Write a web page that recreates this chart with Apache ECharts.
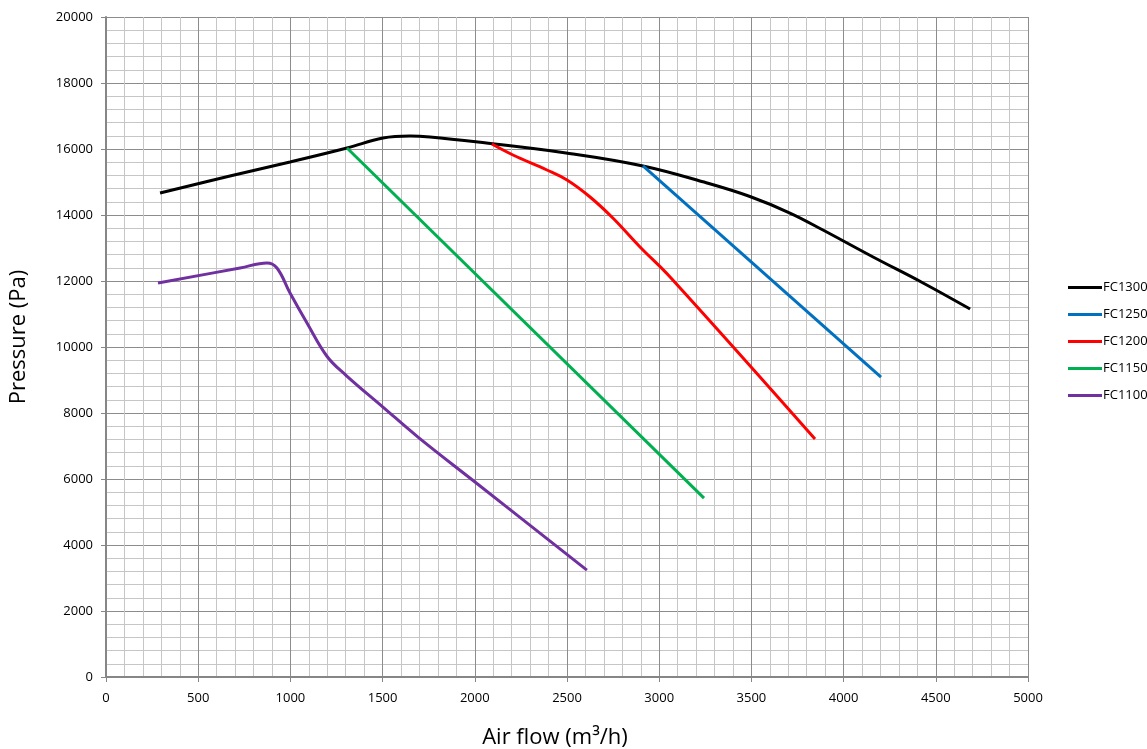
<!DOCTYPE html>
<html>
<head>
<meta charset="utf-8">
<script src="https://cdn.jsdelivr.net/npm/echarts@6/dist/echarts.min.js"></script>
<style>html,body{margin:0;padding:0;background:#fff;}#c{width:1147px;height:749px;}</style>
</head>
<body>
<div id="c"></div>
<script>
const seriesNames = ['FC1300', 'FC1250', 'FC1200', 'FC1150', 'FC1100'];
const seriesColors = ['#000000', '#0070c0', '#ff0000', '#00b050', '#7030a0'];
const fc1300 = [[293,14667],[672,15180],[998,15606],[1307,16030],[1502,16333],[1649,16394],[1757,16364],[2017,16210],[2495,15880],[2912,15485],[3259,14970],[3492,14560],[3709,14060],[3888,13545],[4160,12727],[4431,11940],[4686,11150]];
const fc1250 = [[2912,15485],[4203,9090]];
const fc1200 = [[2093,16150],[2207,15818],[2391,15364],[2500,15060],[2625,14545],[2750,13900],[2896,13030],[3059,12120],[3845,7210]];
const fc1150 = [[1307,16030],[3243,5420]];
const fc1100 = [[282,11940],[727,12394],[873,12545],[927,12394],[998,11636],[1090,10727],[1198,9720],[1300,9150],[1502,8180],[1692,7270],[2001,5910],[2608,3240]];
const seriesData = [fc1300, fc1250, fc1200, fc1150, fc1100];
const smoothing = [0.4, false, 0.4, false, 0.4];

const chart = echarts.init(document.getElementById('c'));
const font = 'Open Sans, Liberation Sans, sans-serif';
chart.setOption({
  animation: false,
  grid: { left: 106, right: 119, top: 17, bottom: 72, containLabel: false, outerBoundsMode: 'none' },
  legend: {
    orient: 'vertical', left: 1063, top: 276,
    itemWidth: 34, itemHeight: 14, itemGap: 14,
    icon: 'path://M0,0 L34,0 L34,3 L0,3 Z',
    textStyle: { fontSize: 13, color: '#000', fontFamily: font, padding: [0,0,0,-4] },
    data: seriesNames
  },
  xAxis: {
    type: 'value', min: 0, max: 5000, interval: 500,
    name: 'Air flow (m³/h)', nameLocation: 'middle', nameGap: 50,
    nameTextStyle: { fontSize: 22, color: '#000', fontFamily: font, padding: [0, 24, 0, 0] },
    axisLine: { show: true, lineStyle: { color: '#868686', width: 2 } },
    axisTick: { show: true, length: 5, lineStyle: { color: '#868686' } },
    axisLabel: { fontSize: 13, color: '#000', fontFamily: font, margin: 15, formatter: v => String(v) },
    splitLine: { show: true, lineStyle: { color: '#8c8c8c', width: 1 } },
    minorTick: { show: false, splitNumber: 5 },
    minorSplitLine: { show: true, lineStyle: { color: '#c6c6c6', width: 1 } }
  },
  yAxis: {
    type: 'value', min: 0, max: 20000, interval: 2000,
    name: 'Pressure (Pa)', nameLocation: 'middle', nameGap: 76, nameRotate: 90,
    nameTextStyle: { fontSize: 22, color: '#000', fontFamily: font, padding: [0, 0, 0, 20] },
    axisLine: { show: true, lineStyle: { color: '#868686', width: 2 } },
    axisTick: { show: true, length: 5, lineStyle: { color: '#868686' } },
    axisLabel: { fontSize: 13, color: '#000', fontFamily: font, margin: 13, formatter: v => String(v) },
    splitLine: { show: true, lineStyle: { color: '#8c8c8c', width: 1 } },
    minorTick: { show: false, splitNumber: 5 },
    minorSplitLine: { show: true, lineStyle: { color: '#c6c6c6', width: 1 } }
  },
  series: seriesNames.map((n, i) => ({
    name: n, type: 'line', data: seriesData[i], smooth: smoothing[i],
    showSymbol: false, symbol: 'none',
    lineStyle: { color: seriesColors[i], width: 3 },
    itemStyle: { color: seriesColors[i] }
  }))
});
</script>
</body>
</html>
